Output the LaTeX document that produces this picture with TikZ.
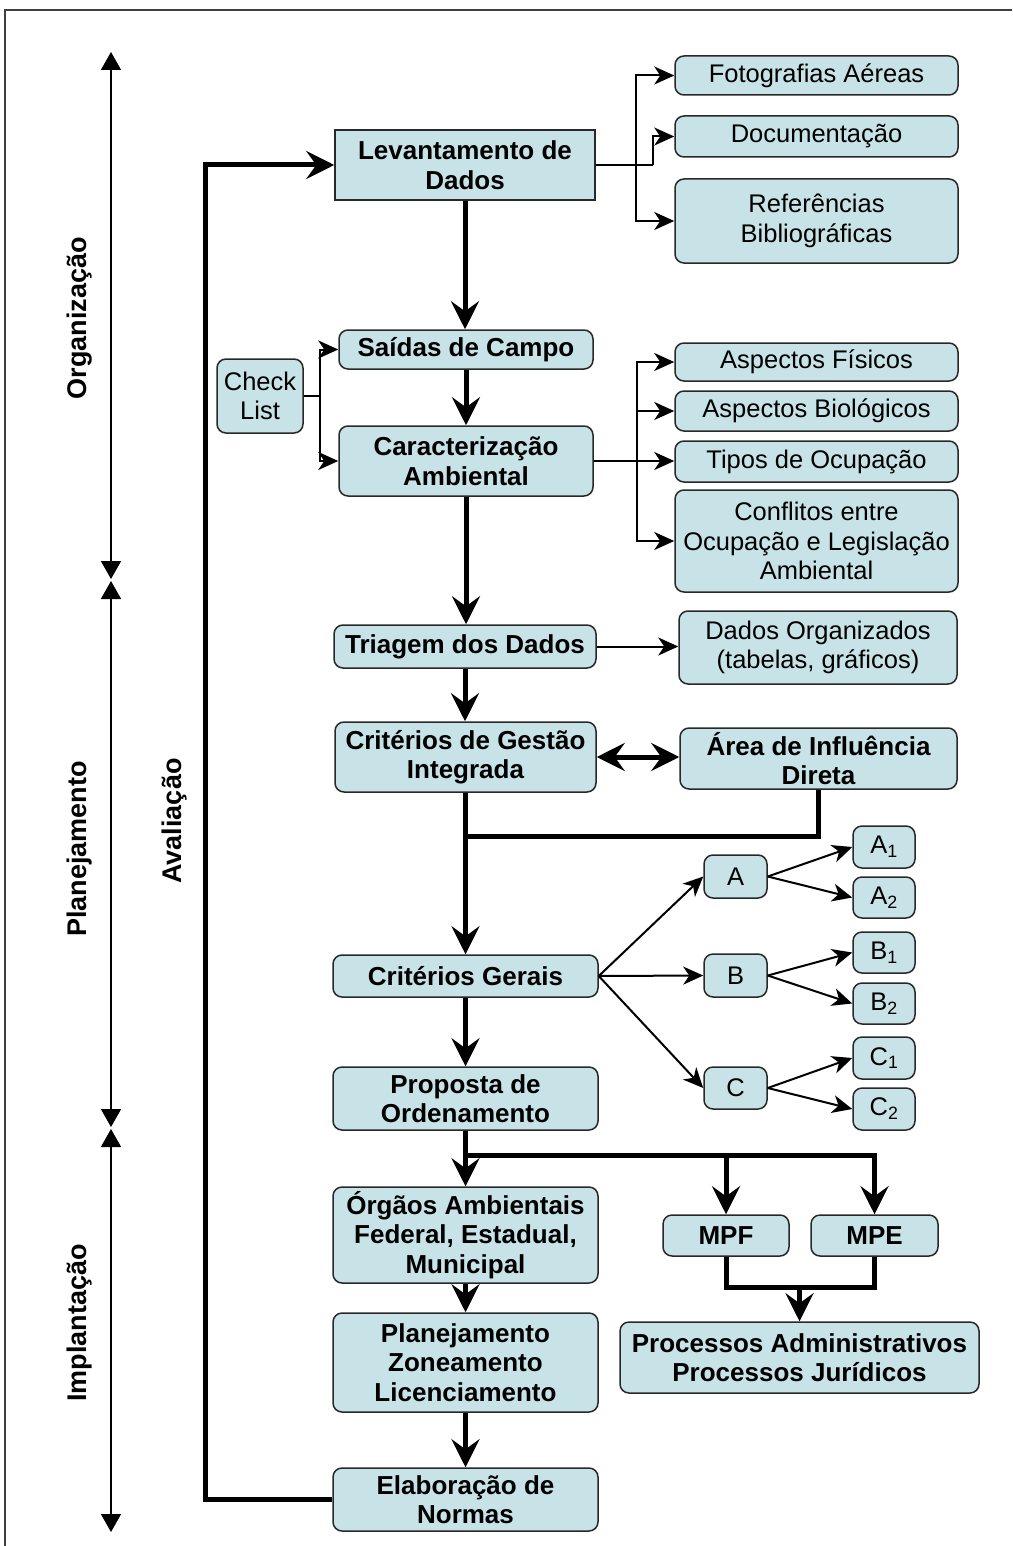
\documentclass[tikz,border=0pt]{standalone}
\usepackage{fontspec}
\setmainfont{Liberation Sans}
\usetikzlibrary{arrows.meta}
\definecolor{boxfill}{RGB}{199,227,231}
\definecolor{boxline}{RGB}{40,40,40}
\begin{document}
\begin{tikzpicture}[x=1pt,y=-1pt,
 box/.style={draw=boxline, line width=1.5pt, fill=boxfill, rounded corners=9pt, inner sep=2pt, align=center, font=\fontsize{25.5}{29.5}\selectfont},
 bbox/.style={box, font=\fontsize{26}{29.5}\selectfont\bfseries},
 wh/.style n args={2}{minimum width=#1, minimum height=#2},
 thk/.style={line width=5pt},
 thkarrow/.style={thk, -{Stealth[length=28pt,width=28pt,inset=10pt]}},
 thn/.style={line width=2pt},
 thnarrow/.style={thn, -{Stealth[length=20pt,width=18pt,inset=6pt]}},
 side/.style={line width=1.5pt, {Triangle[length=18pt,width=20pt]}-{Triangle[length=18pt,width=20pt]}},
 lbl/.style={rotate=90, font=\fontsize{27}{32}\selectfont\bfseries}]
\useasboundingbox (0,0) rectangle (1012,1546);
% frame
\coordinate (fr1) at (5,1546);
\coordinate (fr2) at (5,10);
\coordinate (fr3) at (1012,10);
\draw[line width=1.5pt, black!75] (fr1) -- (fr2) -- (fr3);

% side phase arrows
\coordinate (o1) at (111,52);
\coordinate (o2) at (111,579);
\coordinate (p1) at (111,581);
\coordinate (p2) at (111,1127);
\coordinate (i1) at (111,1129);
\coordinate (i2) at (111,1532);
\draw[side] (o1) -- (o2);
\draw[side] (p1) -- (p2);
\draw[side] (i1) -- (i2);
\node[lbl] (lorg) at (80,318) {Organização};
\node[lbl] (lpla) at (80,849) {Planejamento};
\node[lbl] (limp) at (80,1323) {Implantação};
\node[lbl] (lava) at (175,821) {Avaliação};

% main column
\node[bbox, rounded corners=0pt, wh={260pt}{70pt}] (lev) at (465,165) {Levantamento de\\Dados};
\node[bbox, wh={254pt}{39pt}] (said) at (466,349.5) {Saídas de Campo};
\node[bbox, wh={254pt}{70pt}] (car) at (466,461) {Caracterização\\Ambiental};
\node[box, wh={86pt}{74pt}] (chk) at (260,396) {Check\\List};
\node[bbox, wh={262pt}{43pt}] (tri) at (465,646.5) {Triagem dos Dados};
\node[bbox, wh={261pt}{70pt}] (cgi) at (465.5,757) {Critérios de Gestão\\Integrada};
\node[bbox, wh={265pt}{42pt}] (cg) at (465.5,976) {Critérios Gerais};
\node[bbox, wh={265pt}{63pt}] (prop) at (465.5,1098.5) {Proposta de\\Ordenamento};
\node[bbox, wh={265pt}{96pt}] (org) at (465.5,1235) {Órgãos Ambientais\\Federal, Estadual,\\Municipal};
\node[bbox, wh={265pt}{99pt}] (plan) at (465.5,1362.5) {Planejamento\\Zoneamento\\Licenciamento};
\node[bbox, wh={265pt}{63pt}] (ela) at (465.5,1499.5) {Elaboração de\\Normas};

% right boxes
\node[box, wh={283pt}{39pt}] (foto) at (816.5,75.5) {Fotografias Aéreas};
\node[box, wh={283pt}{41pt}] (doc) at (816.5,136.5) {Documentação};
\node[box, wh={283pt}{84pt}] (ref) at (816.5,221) {Referências\\Bibliográficas};
\node[box, wh={283pt}{38pt}] (fis) at (816.5,362) {Aspectos Físicos};
\node[box, wh={283pt}{40pt}] (bio) at (816.5,411) {Aspectos Biológicos};
\node[box, wh={283pt}{41pt}] (tip) at (816.5,461.5) {Tipos de Ocupação};
\node[box, wh={283pt}{102pt}] (con) at (816.5,541) {Conflitos entre\\Ocupação e Legislação\\Ambiental};
\node[box, wh={278pt}{73pt}] (dad) at (818,647.5) {Dados Organizados\\(tabelas, gráficos)};
\node[bbox, wh={277pt}{61pt}] (are) at (818.5,758.5) {Área de Influência\\Direta};

\node[box, wh={63pt}{43pt}] (A) at (735.5,876.5) {A};
\node[box, wh={63pt}{43pt}] (B) at (735.5,975.5) {B};
\node[box, wh={63pt}{42pt}] (C) at (735.5,1088) {C};
\node[box, wh={62pt}{42pt}] (A1) at (884,847) {A\textsubscript{1}};
\node[box, wh={62pt}{41pt}] (A2) at (884,897.5) {A\textsubscript{2}};
\node[box, wh={62pt}{41pt}] (B1) at (884,952.5) {B\textsubscript{1}};
\node[box, wh={62pt}{41pt}] (B2) at (884,1003.5) {B\textsubscript{2}};
\node[box, wh={62pt}{42pt}] (C1) at (884,1058) {C\textsubscript{1}};
\node[box, wh={62pt}{42pt}] (C2) at (884,1109) {C\textsubscript{2}};

\node[bbox, wh={126pt}{41pt}] (mpf) at (726,1235.5) {MPF};
\node[bbox, wh={127pt}{41pt}] (mpe) at (874.5,1235.5) {MPE};
\node[bbox, wh={359pt}{71pt}] (pro) at (799.5,1357.5) {Processos Administrativos\\Processos Jurídicos};

% feedback loop
\coordinate (fb) at (205,1499.5);
\coordinate (ft) at (205,165);
\draw[thkarrow] (ela.west) -- (fb) -- (ft) -- (lev.west);

% main vertical flow
\draw[thkarrow] (lev.south) -- (lev.south |- said.north);
\draw[thkarrow] (said.south) -- (car.north);
\draw[thkarrow] (car.south) -- (car.south |- tri.north);
\draw[thkarrow] (tri.south) -- (tri.south |- cgi.north);
\draw[thkarrow] (cgi.south) -- (cg.north);
\draw[thkarrow] (cg.south) -- (prop.north);
\draw[thkarrow] (prop.south) -- (org.north);
\draw[thkarrow] (org.south) -- (plan.north);
\draw[thkarrow] (plan.south) -- (ela.north);

% levantamento branches
\coordinate (lj) at (636,165);
\coordinate (dj) at (653,165);
\draw[thn] (lev.east) -- (dj);
\draw[thnarrow] (lj) |- (foto.west);
\draw[thnarrow] (lj) |- (ref.west);
\draw[thnarrow] (dj) |- (doc.west);

% check list
\coordinate (cj) at (320,396);
\draw[thn] (chk.east) -- (cj);
\draw[thnarrow] (cj) |- (said.west);
\draw[thnarrow] (cj) |- (car.west);

% caracterizacao branches
\coordinate (kj) at (637,461);
\draw[thnarrow] (car.east) -- (car.east -| tip.west);
\draw[thnarrow] (kj) |- (fis.west);
\draw[thnarrow] (kj) |- (bio.west);
\draw[thnarrow] (kj) |- (con.west);

% triagem
\draw[thnarrow] (tri.east) -- (tri.east -| dad.west);

% gestao <-> area
\draw[thk, {Stealth[length=28pt,width=28pt,inset=10pt]}-{Stealth[length=28pt,width=28pt,inset=10pt]}] (cgi.east) -- (cgi.east -| are.west);
\coordinate (aj) at (818.5,836);
\coordinate (gj) at (465.5,836);
\draw[thk] (are.south) -- (aj) -- (gj);

% criterios gerais fan
\draw[thnarrow] (cg.east) -- (A.west);
\draw[thnarrow] (cg.east) -- (B.west);
\draw[thnarrow] (cg.east) -- (C.west);
\draw[thnarrow] (A.east) -- (A1.west);
\draw[thnarrow] (A.east) -- (A2.west);
\draw[thnarrow] (B.east) -- (B1.west);
\draw[thnarrow] (B.east) -- (B2.west);
\draw[thnarrow] (C.east) -- (C1.west);
\draw[thnarrow] (C.east) -- (C2.west);

% MPF / MPE
\coordinate (pj) at (465.5,1155);
\draw[thkarrow] (pj) -| (mpf.north);
\draw[thkarrow] (pj) -| (mpe.north);
\coordinate (mj1) at (726,1287);
\coordinate (mj2) at (874.5,1287);
\coordinate (mj) at (799.5,1287);
\draw[thk] (mpf.south) -- (mj1) -- (mj2) -- (mpe.south);
\draw[thkarrow] (mj) -- (pro.north);
\end{tikzpicture}
\end{document}
